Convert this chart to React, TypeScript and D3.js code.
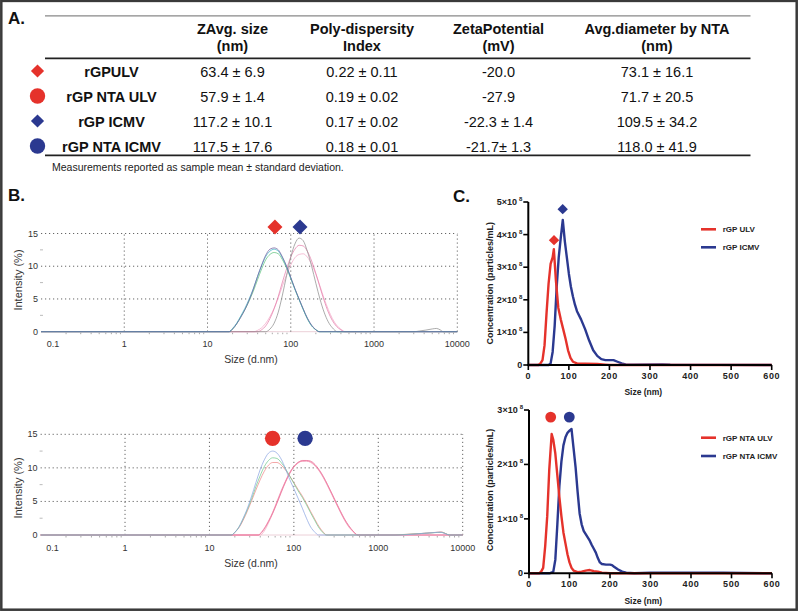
import React from 'react';
import * as d3 from 'd3';

const FONT = "'Liberation Sans', Arial, Helvetica, sans-serif";
const RED = '#e5322b';
const BLUE = '#2b3990';

type Pt = [number, number];

// ---------- Table (panel A) ----------
const TABLE_HEADERS: string[][] = [
  ['ZAvg. size', '(nm)'],
  ['Poly-dispersity', 'Index'],
  ['ZetaPotential', '(mV)'],
  ['Avg.diameter by NTA', '(nm)'],
];
const SAMPLES = ['rGPULV', 'rGP NTA ULV', 'rGP ICMV', 'rGP NTA ICMV'];
const SAMPLE_SHAPE = ['diamond', 'circle', 'diamond', 'circle'];
const SAMPLE_COLOR = [RED, RED, BLUE, BLUE];
const ZAVG = ['63.4 ± 6.9', '57.9 ± 1.4', '117.2 ± 10.1', '117.5 ± 17.6'];
const PDI = ['0.22 ± 0.11', '0.19 ± 0.02', '0.17 ± 0.02', '0.18 ± 0.01'];
const ZETA = ['-20.0', '-27.9', '-22.3 ± 1.4', '-21.7± 1.3'];
const NTA_DIAM = ['73.1 ± 16.1', '71.7 ± 20.5', '109.5 ± 34.2', '118.0 ± 41.9'];
const FOOTNOTE = 'Measurements reported as sample mean ± standard deviation.';

// ---------- Panel B (DLS intensity) ----------
const DLS_X_TICKS = [0.1, 1, 10, 100, 1000, 10000];
const DLS_X_LABELS = ['0.1', '1', '10', '100', '1000', '10000'];
const DLS_Y_TICKS = [0, 5, 10, 15];

// top: rGP ULV replicates
const B1_ULV_PURPLE: Pt[] = [[0.1, 0], [18.2, 0], [20, 0.4], [22.4, 1.2], [25.1, 2.2], [28.2, 3.4], [31.6, 4.8], [35.5, 6.5], [39.8, 8.4], [44.7, 10.2], [50.1, 11.7], [56.2, 12.6], [63.1, 12.8], [70.8, 12.5], [79.4, 11.4], [89.1, 10.0], [100, 8.3], [112, 6.6], [126, 5.0], [141, 3.5], [158, 2.1], [178, 1.0], [200, 0.3], [219, 0], [10000, 0]];
const B1_ULV_TEAL: Pt[] = [[0.1, 0], [18.2, 0], [20, 0.5], [22.4, 1.3], [25.1, 2.4], [28.2, 3.6], [31.6, 5.0], [35.5, 6.6], [39.8, 8.4], [44.7, 10.1], [50.1, 11.5], [56.2, 12.3], [63.1, 12.6], [70.8, 12.3], [79.4, 11.3], [89.1, 9.9], [100, 8.2], [112, 6.5], [126, 4.9], [141, 3.4], [158, 2.0], [178, 0.9], [200, 0.3], [219, 0], [10000, 0]];
const B1_ULV_GREEN: Pt[] = [[0.1, 0], [18.2, 0], [20, 0.4], [22.4, 1.2], [25.1, 2.3], [28.2, 3.4], [31.6, 4.7], [35.5, 6.2], [39.8, 7.9], [44.7, 9.6], [50.1, 11.0], [56.2, 11.8], [63.1, 12.1], [70.8, 11.9], [79.4, 11.0], [89.1, 9.7], [100, 8.1], [112, 6.5], [126, 4.9], [141, 3.4], [158, 2.0], [178, 0.9], [200, 0.3], [224, 0], [10000, 0]];
// top: rGP ICMV replicates
const B1_ICMV_GRAY: Pt[] = [[0.1, 0], [50.1, 0], [56.2, 0.4], [63.1, 1.3], [70.8, 3.0], [79.4, 5.6], [89.1, 8.6], [100, 11.4], [112, 13.4], [126, 14.3], [141, 13.9], [158, 12.3], [178, 10.0], [200, 7.4], [224, 5.0], [251, 3.0], [282, 1.5], [316, 0.6], [363, 0], [3000, 0], [3500, 0.1], [4200, 0.25], [5000, 0.42], [5600, 0.5], [6200, 0.3], [6800, 0], [10000, 0]];
const B1_ICMV_PINK: Pt[] = [[0.1, 0], [39.8, 0], [44.7, 0.3], [50.1, 0.9], [56.2, 2.0], [63.1, 3.5], [70.8, 5.4], [79.4, 7.6], [89.1, 9.6], [100, 11.4], [112, 12.6], [126, 13.2], [141, 13.1], [158, 12.3], [178, 10.8], [200, 8.9], [224, 6.8], [251, 4.8], [282, 3.0], [316, 1.7], [355, 0.8], [398, 0.3], [437, 0], [10000, 0]];
const B1_ICMV_LPINK: Pt[] = [[0.1, 0], [36.3, 0], [39.8, 0.2], [44.7, 0.6], [50.1, 1.3], [56.2, 2.3], [63.1, 3.6], [70.8, 5.2], [79.4, 7.0], [89.1, 8.7], [100, 10.2], [112, 11.3], [126, 11.8], [141, 11.9], [158, 11.4], [178, 10.3], [200, 8.8], [224, 7.0], [251, 5.1], [282, 3.4], [316, 2.0], [355, 1.0], [398, 0.4], [457, 0], [10000, 0]];

// bottom: rGP NTA ULV replicates
const B2_ULV_BLUE: Pt[] = [[0.1, 0], [18.2, 0], [20, 0.4], [22.4, 1.2], [25.1, 2.5], [28.2, 4.0], [31.6, 5.8], [35.5, 7.8], [39.8, 9.7], [44.7, 11.2], [50.1, 12.2], [56.2, 12.5], [63.1, 12.2], [70.8, 11.3], [79.4, 9.9], [89.1, 8.3], [100, 6.9], [112, 5.5], [126, 4.0], [141, 2.5], [158, 1.2], [178, 0.4], [195, 0], [1800, 0], [2500, 0.1], [3500, 0.25], [4500, 0.35], [5400, 0.42], [6200, 0.2], [7000, 0], [10000, 0]];
const B2_ULV_GREEN: Pt[] = [[0.1, 0], [18.2, 0], [20, 0.4], [22.4, 1.2], [25.1, 2.4], [28.2, 3.8], [31.6, 5.4], [35.5, 7.2], [39.8, 8.8], [44.7, 10.2], [50.1, 11.1], [56.2, 11.5], [63.1, 11.4], [70.8, 10.8], [79.4, 9.9], [89.1, 8.8], [100, 7.7], [112, 6.6], [126, 5.6], [141, 4.5], [158, 3.3], [178, 2.1], [200, 1.0], [224, 0.3], [240, 0], [1600, 0], [2200, 0.1], [3000, 0.2], [4000, 0.3], [5000, 0.38], [5700, 0.4], [6300, 0.2], [7000, 0], [10000, 0]];
const B2_ULV_SALMON: Pt[] = [[0.1, 0], [18.2, 0], [20, 0.4], [22.4, 1.1], [25.1, 2.2], [28.2, 3.6], [31.6, 5.1], [35.5, 6.7], [39.8, 8.2], [44.7, 9.5], [50.1, 10.4], [56.2, 10.8], [63.1, 10.8], [70.8, 10.4], [79.4, 9.7], [89.1, 8.8], [100, 7.8], [112, 6.8], [126, 5.8], [141, 4.7], [158, 3.5], [178, 2.3], [200, 1.2], [224, 0.4], [245, 0], [1500, 0], [2000, 0.08], [3000, 0.2], [4000, 0.3], [5000, 0.4], [5600, 0.45], [6300, 0.2], [7000, 0], [10000, 0]];
// bottom: rGP NTA ICMV replicates
const B2_ICMV_A: Pt[] = [[0.1, 0], [38, 0], [41.7, 0.5], [45.7, 1.2], [50.1, 2.1], [56.2, 3.4], [63.1, 5.0], [70.8, 6.6], [79.4, 8.0], [89.1, 9.3], [100, 10.2], [112, 10.8], [126, 11.0], [141, 11.05], [158, 10.9], [178, 10.4], [200, 9.6], [224, 8.6], [251, 7.4], [282, 6.1], [316, 4.8], [355, 3.5], [398, 2.3], [447, 1.3], [501, 0.6], [575, 0], [10000, 0]];
const B2_ICMV_B: Pt[] = [[0.1, 0], [38, 0], [41.7, 0.4], [45.7, 1.1], [50.1, 2.0], [56.2, 3.3], [63.1, 4.8], [70.8, 6.4], [79.4, 7.9], [89.1, 9.2], [100, 10.2], [112, 10.8], [126, 11.1], [141, 11.1], [158, 11.0], [178, 10.5], [200, 9.7], [224, 8.7], [251, 7.5], [282, 6.2], [316, 4.9], [355, 3.6], [398, 2.4], [447, 1.4], [501, 0.6], [575, 0], [10000, 0]];
const B2_ICMV_C: Pt[] = [[0.1, 0], [40, 0], [44.7, 0.6], [50.1, 1.8], [56.2, 3.2], [63.1, 4.7], [70.8, 6.3], [79.4, 7.8], [89.1, 9.1], [100, 10.1], [112, 10.7], [126, 11.0], [141, 11.0], [158, 10.8], [178, 10.3], [200, 9.5], [224, 8.5], [251, 7.3], [282, 6.0], [316, 4.7], [355, 3.4], [398, 2.2], [447, 1.2], [501, 0.5], [560, 0], [1500, 0], [2500, 0.12], [3500, 0.25], [4800, 0.4], [5500, 0.42], [6300, 0.2], [6900, 0], [10000, 0]];

// peak markers (size nm, intensity %)
const B1_MARKERS: Pt[] = [[64.5, 16.0], [129, 16.0]];
const B2_MARKERS: Pt[] = [[56, 14.4], [136, 14.4]];

// ---------- Panel C (NTA concentration, ×10^8 particles/mL) ----------
const NTA_X_TICKS = [0, 100, 200, 300, 400, 500, 600];
const C1_Y_TICKS = [0, 1, 2, 3, 4, 5];
const C2_Y_TICKS = [0, 1, 2, 3];
const C1_ULV: Pt[] = [[0, 0], [25, 0], [30, 0.05], [35, 0.15], [40, 0.6], [45, 1.6], [50, 2.5], [55, 3.1], [60, 3.3], [63, 3.55], [68, 2.6], [74, 1.75], [80, 1.4], [86, 1.1], [92, 0.8], [98, 0.45], [104, 0.22], [110, 0.1], [120, 0.05], [140, 0.04], [170, 0.03], [190, 0.01], [200, 0], [600, 0]];
const C1_ICMV: Pt[] = [[0, 0], [50, 0], [55, 0.05], [60, 0.4], [65, 1.2], [70, 2.4], [75, 3.3], [80, 3.9], [85, 4.45], [90, 3.8], [95, 3.3], [100, 2.8], [105, 2.4], [110, 2.1], [115, 1.85], [120, 1.65], [130, 1.4], [140, 1.1], [150, 0.75], [160, 0.45], [170, 0.28], [180, 0.18], [190, 0.15], [200, 0.15], [210, 0.15], [220, 0.1], [230, 0.05], [240, 0.02], [260, 0.01], [330, 0.02], [350, 0.01], [600, 0]];
const C2_ULV: Pt[] = [[0, 0], [25, 0], [30, 0.03], [35, 0.1], [40, 0.5], [45, 1.05], [50, 1.9], [56, 2.56], [60, 2.45], [65, 2.2], [70, 1.8], [75, 1.4], [80, 1.05], [85, 0.75], [90, 0.55], [95, 0.35], [100, 0.2], [105, 0.1], [110, 0.05], [120, 0.02], [130, 0.03], [140, 0.05], [150, 0.06], [160, 0.04], [170, 0.03], [180, 0.01], [200, 0], [600, 0]];
const C2_ICMV: Pt[] = [[0, 0], [50, 0], [55, 0.01], [60, 0.03], [65, 0.25], [70, 0.9], [75, 1.6], [80, 2.05], [85, 2.35], [90, 2.5], [95, 2.58], [100, 2.62], [105, 2.65], [110, 2.3], [115, 1.95], [120, 1.5], [125, 1.1], [130, 0.9], [135, 0.78], [140, 0.72], [145, 0.66], [150, 0.6], [155, 0.52], [160, 0.45], [165, 0.38], [170, 0.28], [175, 0.2], [180, 0.17], [190, 0.16], [200, 0.16], [205, 0.15], [210, 0.12], [220, 0.07], [230, 0.03], [240, 0.01], [260, 0], [300, 0.01], [400, 0.01], [480, 0.01], [600, 0]];
const C1_MARKERS: Pt[] = [[63.4, 3.83], [84.8, 4.78]];
const C2_MARKERS: Pt[] = [[53.6, 2.87], [99.5, 2.87]];
const C1_LEGEND = ['rGP ULV', 'rGP ICMV'];
const C2_LEGEND = ['rGP NTA ULV', 'rGP NTA ICMV'];

function Marker({ shape, x, y, size, color }: { shape: string; x: number; y: number; size: number; color: string }) {
  if (shape === 'circle') {
    return <circle cx={x} cy={y} r={size} fill={color} />;
  }
  const path = d3.symbol().type(d3.symbolSquare).size(size * size * 2)() as string;
  return <path d={path} transform={`translate(${x},${y}) rotate(45)`} fill={color} />;
}

type Curve = { data: Pt[]; color: string };

function DLSPanel({ xr, yr, curves, markers, shape, titleXBaseline, titleYCenter }: {
  xr: [number, number]; yr: [number, number]; curves: Curve[]; markers: Pt[]; shape: string;
  titleXBaseline: number; titleYCenter: number;
}) {
  const x = d3.scaleLog().domain([0.1, 10000]).range(xr);
  const y = d3.scaleLinear().domain([0, 15]).range(yr);
  const line = d3.line<Pt>().x(d => x(d[0])).y(d => y(d[1])).curve(d3.curveMonotoneX);
  const minor: number[] = [];
  [0.1, 1, 10, 100, 1000].forEach(dec => { for (let k = 2; k <= 9; k++) minor.push(dec * k); });
  const grid = { stroke: '#666', strokeWidth: 1, strokeDasharray: '1.2 2.8' };
  return (
    <g>
      <line x1={x(0.1)} x2={x(10000)} y1={y(0)} y2={y(0)} stroke="#ecd0d8" strokeWidth={1} />
      {[5, 10, 15].map(v => (
        <line key={'h' + v} x1={x(0.1)} x2={x(10000)} y1={y(v)} y2={y(v)} {...grid} />
      ))}
      {DLS_X_TICKS.slice(1).map(v => (
        <line key={'v' + v} x1={x(v)} x2={x(v)} y1={y(0)} y2={y(15)} {...grid} />
      ))}
      {[2.5, 7.5, 12.5].map(v => (
        <line key={'m' + v} x1={x(0.1) - 1} x2={x(0.1) + 2} y1={y(v)} y2={y(v)} stroke="#bbb" />
      ))}
      {minor.map((v, i) => (
        <line key={'mx' + i} x1={x(v)} x2={x(v)} y1={y(0) + 1} y2={y(0) + 2.5} stroke="#aaa" />
      ))}
      {curves.map((c, i) => (
        <path key={i} d={line(c.data) as string} fill="none" stroke={c.color} strokeWidth={0.8} strokeOpacity={0.9} />
      ))}
      {DLS_Y_TICKS.map(v => (
        <text key={'yl' + v} x={x(0.1) - 3} y={y(v) + 3} textAnchor="end" fontSize={9} fill="#333">{v}</text>
      ))}
      {DLS_X_TICKS.map((v, i) => (
        <text key={'xl' + v} x={i === 0 ? x(v) + 12 : x(v)} y={y(0) + 15.5} textAnchor="middle" fontSize={9} fill="#333">{DLS_X_LABELS[i]}</text>
      ))}
      <text x={251} y={titleXBaseline} textAnchor="middle" fontSize={10.5} fill="#333">Size (d.nm)</text>
      <text transform={`translate(22,${titleYCenter}) rotate(-90)`} textAnchor="middle" fontSize={11} fill="#333">Intensity (%)</text>
      {markers.map((m, i) => (
        <Marker key={'mk' + i} shape={shape} x={x(m[0])} y={y(m[1])} size={shape === 'circle' ? 7.7 : 7.5} color={i === 0 ? RED : BLUE} />
      ))}
    </g>
  );
}

function NTAPanel({ xr, yr, yMax, yTicks, ulv, icmv, markers, shape, legend, legendY, titleXBaseline, titleYCenter }: {
  xr: [number, number]; yr: [number, number]; yMax: number; yTicks: number[]; ulv: Pt[]; icmv: Pt[];
  markers: Pt[]; shape: string; legend: string[]; legendY: [number, number]; titleXBaseline: number; titleYCenter: number;
}) {
  const x = d3.scaleLinear().domain([0, 600]).range(xr);
  const y = d3.scaleLinear().domain([0, yMax]).range(yr);
  const line = d3.line<Pt>().x(d => x(d[0])).y(d => y(d[1])).curve(d3.curveLinear);
  const lab = { fontSize: 9, fontWeight: 700, fill: '#222' } as const;
  return (
    <g>
      <path d={line(icmv) as string} fill="none" stroke={BLUE} strokeWidth={2.4} strokeLinejoin="round" />
      <path d={line(ulv) as string} fill="none" stroke={RED} strokeWidth={2.4} strokeLinejoin="round" />
      <line x1={x(0)} x2={x(0)} y1={y(0) + 1} y2={y(yMax)} stroke="#000" strokeWidth={2} />
      <line x1={x(0) - 1} x2={x(600)} y1={y(0)} y2={y(0)} stroke="#000" strokeWidth={2} />
      {yTicks.map(v => (
        <g key={'yt' + v}>
          <line x1={x(0) - 5} x2={x(0)} y1={y(v)} y2={y(v)} stroke="#000" strokeWidth={1.6} />
          <text x={x(0) - 6} y={y(v) + 3} textAnchor="end" {...lab}>
            {v === 0 ? '0' : <>{v}×10<tspan fontSize={6} dx={2} dy={-4}>8</tspan></>}
          </text>
        </g>
      ))}
      {NTA_X_TICKS.map(v => (
        <g key={'xt' + v}>
          <line x1={x(v)} x2={x(v)} y1={y(0)} y2={y(0) + 5} stroke="#000" strokeWidth={1.6} />
          <text x={x(v)} y={y(0) + 14} textAnchor="middle" letterSpacing={0.6} {...lab}>{v}</text>
        </g>
      ))}
      <text x={643.3} y={titleXBaseline} textAnchor="middle" fontSize={8.5} fontWeight={700} fill="#222">Size (nm)</text>
      <text transform={`translate(492.5,${titleYCenter}) rotate(-90)`} textAnchor="middle" fontSize={9} fontWeight={700} fill="#222">Concentration (particles/mL)</text>
      {legend.map((t, i) => (
        <g key={'lg' + i}>
          <line x1={701} x2={716} y1={legendY[i]} y2={legendY[i]} stroke={i === 0 ? RED : BLUE} strokeWidth={2.6} />
          <text x={722.7} y={legendY[i] + 3} fontSize={8} fontWeight={700} fill="#222">{t}</text>
        </g>
      ))}
      {markers.map((m, i) => (
        <Marker key={'mk' + i} shape={shape} x={x(m[0])} y={y(m[1])} size={shape === 'circle' ? 5.4 : 5.2} color={i === 0 ? RED : BLUE} />
      ))}
    </g>
  );
}

export default function App() {
  const colX = [232.5, 362, 498.5, 657];
  const rowY = [76.5, 101.5, 126.5, 151.5];
  const cols = [ZAVG, PDI, ZETA, NTA_DIAM];
  return (
    <svg width={800} height={611} style={{ position: 'absolute', left: 0, top: 0 }} fontFamily={FONT}>
      <rect x={0} y={0} width={800} height={611} fill="#fff" />
      {/* Panel A */}
      <text x={8} y={24} fontSize={17} fontWeight={700} fill="#111">A.</text>
      <line x1={45} x2={750.5} y1={15.8} y2={15.8} stroke="#888" strokeWidth={1.3} />
      {TABLE_HEADERS.map((h, i) => (
        <g key={'th' + i}>
          <text x={colX[i]} y={34} textAnchor="middle" fontSize={14.5} fontWeight={700} fill="#111">{h[0]}</text>
          <text x={colX[i]} y={50.5} textAnchor="middle" fontSize={14.5} fontWeight={700} fill="#111">{h[1]}</text>
        </g>
      ))}
      <line x1={45} x2={750.5} y1={58.3} y2={58.3} stroke="#222" strokeWidth={1.8} />
      {SAMPLES.map((s, r) => (
        <g key={'row' + r}>
          <Marker shape={SAMPLE_SHAPE[r]} x={37.5} y={rowY[r] - 5.5} size={SAMPLE_SHAPE[r] === 'circle' ? 7.7 : 6.6} color={SAMPLE_COLOR[r]} />
          <text x={111.5} y={rowY[r]} textAnchor="middle" fontSize={14.5} fontWeight={700} fill="#111">{s}</text>
          {cols.map((c, j) => (
            <text key={j} x={colX[j]} y={rowY[r]} textAnchor="middle" fontSize={14.5} fill="#111">{c[r]}</text>
          ))}
        </g>
      ))}
      <line x1={45} x2={750.5} y1={155.3} y2={155.3} stroke="#222" strokeWidth={1.8} />
      <text x={52} y={170.5} fontSize={10.5} fill="#222">{FOOTNOTE}</text>

      {/* Panel B */}
      <text x={8} y={201} fontSize={17} fontWeight={700} fill="#111">B.</text>
      <DLSPanel xr={[41, 457.3]} yr={[331.7, 233.5]} shape="diamond" markers={B1_MARKERS}
        titleXBaseline={363} titleYCenter={280}
        curves={[
          { data: B1_ICMV_LPINK, color: '#f2a6c6' },
          { data: B1_ICMV_PINK, color: '#e57aa8' },
          { data: B1_ICMV_GRAY, color: '#8c8c8c' },
          { data: B1_ULV_GREEN, color: '#5cc27a' },
          { data: B1_ULV_TEAL, color: '#3fb3c6' },
          { data: B1_ULV_PURPLE, color: '#6e5c9e' },
        ]} />
      <DLSPanel xr={[40.6, 462.7]} yr={[535, 434.3]} shape="circle" markers={B2_MARKERS}
        titleXBaseline={567} titleYCenter={488}
        curves={[
          { data: B2_ICMV_C, color: '#f4a4bc' },
          { data: B2_ICMV_B, color: '#e8628e' },
          { data: B2_ICMV_A, color: '#f081a6' },
          { data: B2_ULV_SALMON, color: '#f08484' },
          { data: B2_ULV_GREEN, color: '#6cc98c' },
          { data: B2_ULV_BLUE, color: '#8aa4e2' },
        ]} />

      {/* Panel C */}
      <text x={453} y={202} fontSize={17} fontWeight={700} fill="#111">C.</text>
      <NTAPanel xr={[528.3, 771.7]} yr={[365, 202]} yMax={5} yTicks={C1_Y_TICKS} ulv={C1_ULV} icmv={C1_ICMV}
        markers={C1_MARKERS} shape="diamond" legend={C1_LEGEND} legendY={[229.3, 247.3]}
        titleXBaseline={395} titleYCenter={283.3} />
      <NTAPanel xr={[529, 772]} yr={[573.3, 410]} yMax={3} yTicks={C2_Y_TICKS} ulv={C2_ULV} icmv={C2_ICMV}
        markers={C2_MARKERS} shape="circle" legend={C2_LEGEND} legendY={[437.7, 456]}
        titleXBaseline={603.5} titleYCenter={490} />

      {/* outer frame */}
      <rect x={1.3} y={0.9} width={795.4} height={608.8} fill="none" stroke="#3a3a3a" strokeWidth={2.5} />
    </svg>
  );
}
